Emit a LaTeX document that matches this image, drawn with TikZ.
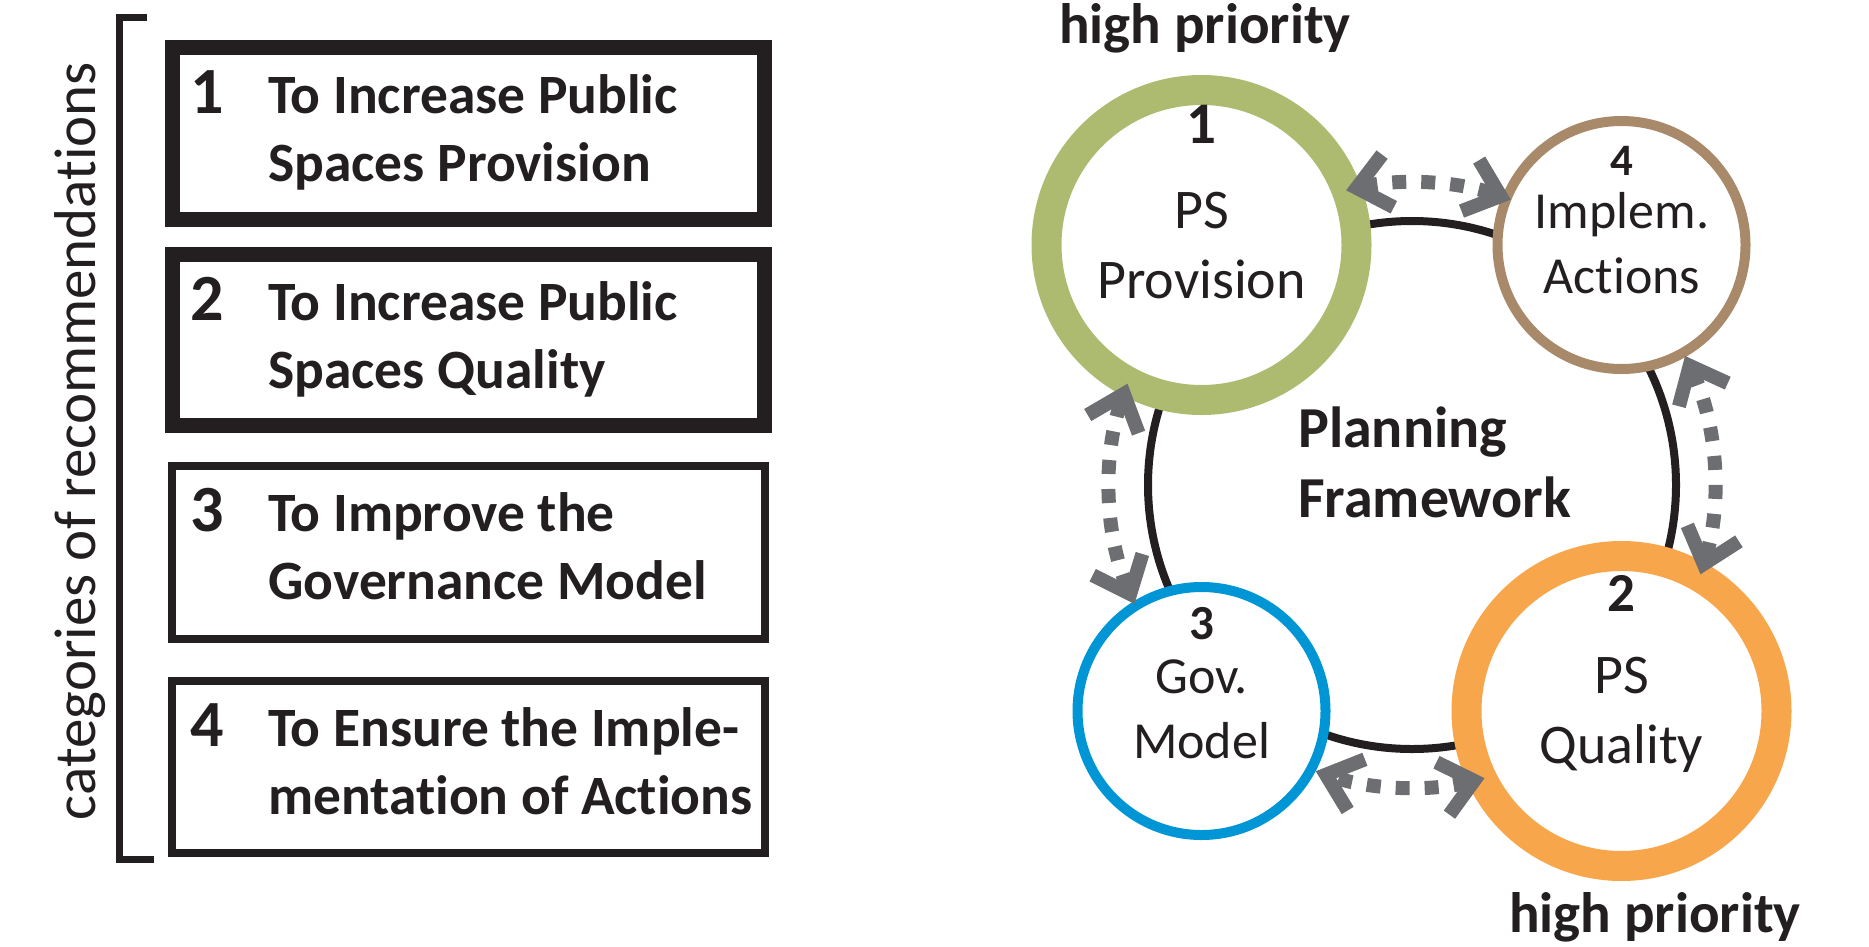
\documentclass[tikz,border=0pt]{standalone}
\usepackage{fontspec}
\setmainfont{Carlito}[Ligatures=NoCommon]
\usetikzlibrary{arrows.meta}

\definecolor{inkblack}{HTML}{231F20}
\definecolor{arrowgray}{HTML}{6D6E71}
\definecolor{provgreen}{HTML}{ADBB71}
\definecolor{implbrown}{HTML}{A88A6A}
\definecolor{govblue}{HTML}{0096D6}
\definecolor{qualorange}{HTML}{F8A64B}

\newcommand\fsz[2]{\fontsize{#1pt}{#2pt}\selectfont}

\tikzset{
  chev/.tip={Straight Barb[length=32pt,width=54pt,line cap=butt,line join=miter]},
  catbox/.style={draw=inkblack, fill=white, minimum width=592.5pt,
                 minimum height=172pt, inner sep=0pt},
  ring/.style={circle, fill=white, inner sep=0pt},
  lbl/.style={anchor=base, inner sep=0pt, text=inkblack},
  boxtxt/.style={anchor=base west, inner sep=0pt, text=inkblack,
                 font=\bfseries\fsz{55.5}{67}},
  boxnum/.style={anchor=base west, inner sep=0pt, text=inkblack,
                 font=\bfseries\fsz{66}{70}},
  dualarrow/.style={draw=arrowgray, line width=14pt,
                    dash pattern=on 14pt off 15pt, chev-chev},
}

\begin{document}
\begin{tikzpicture}[x=1pt,y=-1pt]
\useasboundingbox (0,0) rectangle (1869,946);

% ---- left: categories of recommendations ----
\draw[line width=7pt, draw=inkblack] (147,17.5) -- (119.5,17.5) -- (119.5,859) -- (154,859);
\node[rotate=90, anchor=base, inner sep=0pt, text=inkblack, font=\fsz{59}{60}]
  (cat) at (95,441) {categories of recommendations};

\node[catbox, line width=15pt, minimum height=172pt] (b1) at (468.25,133.5) {};
\node[catbox, line width=15pt, minimum height=171pt] (b2) at (468.25,340) {};
\node[catbox, line width=8pt, minimum height=172.5pt] (b3) at (468.25,552.25) {};
\node[catbox, line width=8pt, minimum height=172pt] (b4) at (468.25,767) {};

\node[boxnum] (n1) at (190,113) {1};
\node[boxtxt] (t1a) at (268,113) {To Increase Public};
\node[boxtxt] (t1b) at (268,181) {Spaces Provision};
\node[boxnum] (n2) at (190,320) {2};
\node[boxtxt] (t2a) at (268,320) {To Increase Public};
\node[boxtxt] (t2b) at (268,388) {Spaces Quality};
\node[boxnum] (n3) at (190,531.5) {3};
\node[boxtxt] (t3a) at (268,531.5) {To Improve the};
\node[boxtxt] (t3b) at (268,599.5) {Governance Model};
\node[boxnum] (n4) at (190,746.5) {4};
\node[boxtxt] (t4a) at (268,746.5) {To Ensure the Imple-};
\node[boxtxt] (t4b) at (268,814.5) {mentation of Actions};

% ---- right: planning framework cycle ----
\node[circle, draw=inkblack, line width=8pt, minimum size=528pt, inner sep=0pt] (pf) at (1412,485) {};

\node[ring, draw=provgreen, line width=30pt, minimum size=310pt] (c1) at (1201.5,245) {};
\node[ring, draw=implbrown, line width=10pt, minimum size=248pt] (c4) at (1621.5,245) {};
\node[ring, draw=govblue, line width=10pt, minimum size=248pt] (c3) at (1201.5,711) {};
\node[ring, draw=qualorange, line width=30pt, minimum size=310pt] (c2) at (1621.5,711) {};

\node[lbl, font=\bfseries\fsz{58}{70}] (pfa) at (1298,447) [anchor=base west] {Planning};
\node[lbl, font=\bfseries\fsz{58}{70}] (pfb) at (1298,517) [anchor=base west] {Framework};

\node[lbl, font=\bfseries\fsz{57}{60}] (hp1) at (1205,43) {high priority};
\node[lbl, font=\bfseries\fsz{57}{60}] (hp2) at (1655,932) {high priority};

\node[lbl, font=\bfseries\fsz{59}{60}] (l1n) at (1201.5,143) {1};
\node[lbl, font=\fsz{56}{60}] (l1a) at (1201.5,228) {PS};
\node[lbl, font=\fsz{56}{60}] (l1b) at (1201.5,298) {Provision};

\node[lbl, font=\bfseries\fsz{45}{50}] (l4n) at (1622,175) {4};
\node[lbl, font=\fsz{52}{60}] (l4a) at (1622,228) {Implem.};
\node[lbl, font=\fsz{52}{60}] (l4b) at (1622,293) {Actions};

\node[lbl, font=\bfseries\fsz{49}{50}] (l3n) at (1201.5,639) {3};
\node[lbl, font=\fsz{52}{60}] (l3a) at (1201.5,693) {Gov.};
\node[lbl, font=\fsz{52}{60}] (l3b) at (1201.5,758) {Model};

\node[lbl, font=\bfseries\fsz{55}{60}] (l2n) at (1621.5,611) {2};
\node[lbl, font=\fsz{56}{60}] (l2a) at (1621.5,693) {PS};
\node[lbl, font=\fsz{56}{60}] (l2b) at (1621.5,763) {Quality};

% end points of the two-way links, on a ring around the framework circle
\coordinate (a14) at ([shift={(-102.6:302)}]pf.center);
\coordinate (a41) at ([shift={(-70.9:302)}]pf.center);
\coordinate (a42) at ([shift={(-25.3:302)}]pf.center);
\coordinate (a24) at ([shift={(17.2:302)}]pf.center);
\coordinate (a23) at ([shift={(76.1:302)}]pf.center);
\coordinate (a32) at ([shift={(108.6:302)}]pf.center);
\coordinate (a31) at ([shift={(156.8:302)}]pf.center);
\coordinate (a13) at ([shift={(199.6:302)}]pf.center);

\draw[dualarrow] (a14) arc[start angle=-102.6, end angle=-70.9, radius=302];
\draw[dualarrow] (a42) arc[start angle=-25.3, end angle=17.2, radius=302];
\draw[dualarrow] (a23) arc[start angle=76.1, end angle=108.6, radius=302];
\draw[dualarrow] (a31) arc[start angle=156.8, end angle=199.6, radius=302];
\end{tikzpicture}
\end{document}
